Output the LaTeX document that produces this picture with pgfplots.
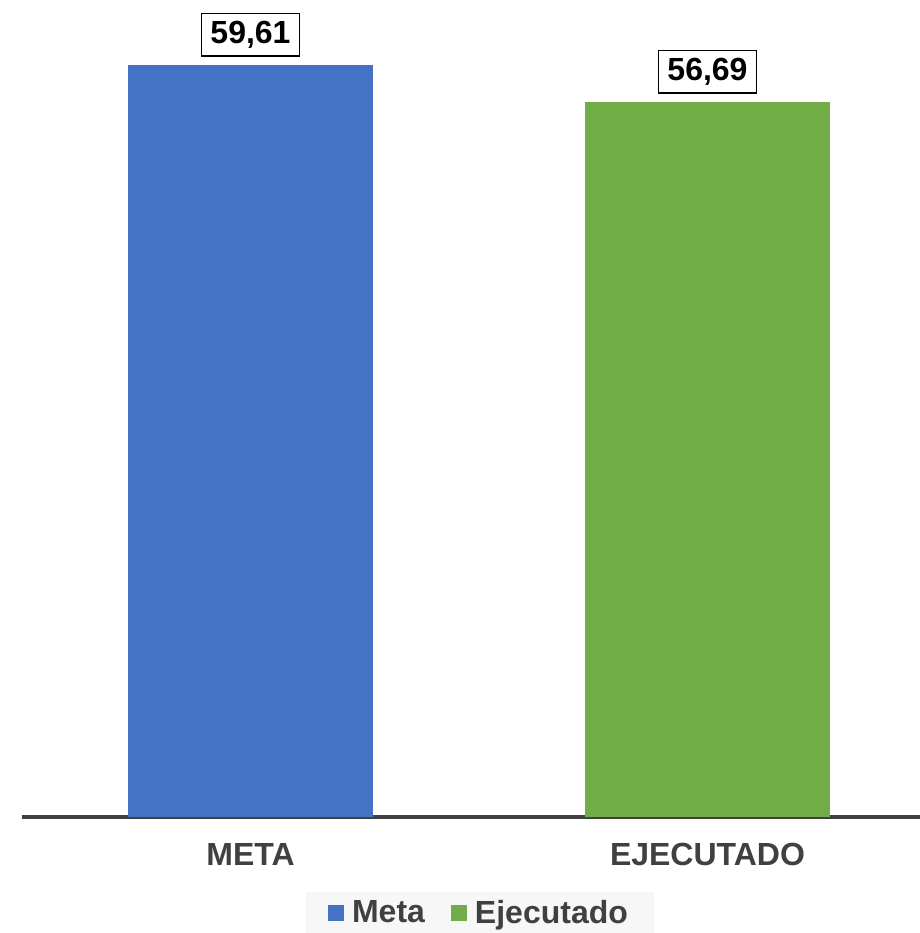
\documentclass[border=0pt]{standalone}
\usepackage{pgfplots}
\pgfplotsset{compat=1.18}
\usepackage{fontspec}
\setmainfont{Liberation Sans}
\definecolor{metablue}{HTML}{4472C4}
\definecolor{ejegreen}{HTML}{70AD47}
\definecolor{txtgray}{HTML}{404040}
\definecolor{legbg}{HTML}{F7F7F7}
\newcommand{\bigbf}{\fontsize{32bp}{37bp}\selectfont\bfseries}
\begin{document}
\begin{tikzpicture}
\begin{axis}[
    scale only axis,
    width=898bp, height=817bp,
    ybar, bar width=0.536, bar shift=0pt,
    xmin=-0.5, xmax=1.465,
    ymin=0, ymax=64.74,
    axis x line*=bottom,
    hide y axis,
    x axis line style={txtgray, line width=3.5bp},
    xtick={0,1}, xticklabels={META,EJECUTADO},
    major tick length=0pt,
    xticklabel style={font=\bigbf, text=txtgray, inner sep=0pt, yshift=-26bp},
    nodes near coords={\pgfmathprintnumber[fixed,fixed zerofill,precision=2,use comma,assume math mode=true]{\pgfplotspointmeta}},
    every node near coord/.append style={font=\bigbf, text=black, fill=white, draw=black, line width=1.6bp,
        inner xsep=9bp, inner ysep=7.5bp, anchor=south, yshift=8bp},
    clip=false,
    legend columns=2,
    legend style={fill=legbg, draw=none, at={(0.510,-0.117)}, anchor=center,
        font=\bigbf, text=txtgray, inner xsep=22bp, inner ysep=4bp,
        /tikz/every odd column/.append style={column sep=4bp},
        /tikz/every even column/.append style={column sep=22bp},
        nodes={inner sep=4bp}},
    legend image code/.code={\fill[#1] (0bp,-8bp) rectangle (16bp,8bp);},
]
\addplot[fill=metablue, draw=none] coordinates {(0,59.61)};
\addlegendentry{Meta}
\addplot[fill=ejegreen, draw=none] coordinates {(1,56.69)};
\addlegendentry{Ejecutado}
\end{axis}
\pgfresetboundingbox
\path[use as bounding box] ([xshift=-22bp,yshift=-116bp]current axis.south west) rectangle (current axis.north east);
\end{tikzpicture}
\end{document}
